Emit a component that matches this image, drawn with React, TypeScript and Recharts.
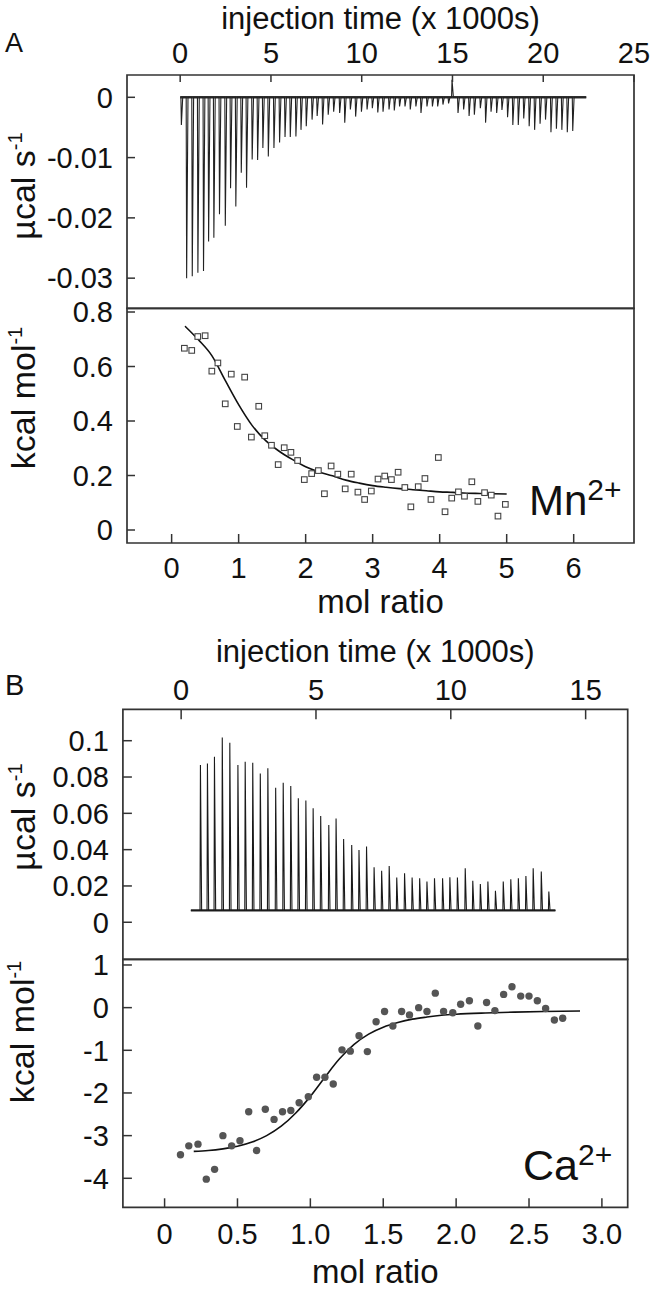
import { ComposedChart, Line, Scatter, XAxis, YAxis, ReferenceArea } from 'recharts'

// ---- panel A (Mn2+) raw thermogram: injection time (x 1000 s) / peak (µcal s-1)
const mnInjTimes = [
  0.04, 0.33, 0.64, 0.95, 1.26, 1.54, 1.83, 2.14, 2.46, 2.75, 3.04, 3.34, 3.63, 3.94, 4.24, 4.53,
  4.83, 5.14, 5.45, 5.75, 6.04, 6.35, 6.63, 6.92, 7.24, 7.52, 7.82, 8.13, 8.43, 8.76, 9.04, 9.35,
  9.64, 9.96, 10.27, 10.56, 10.86, 11.15, 11.48, 11.77, 12.06, 12.36, 12.65, 12.96, 13.24, 13.57,
  13.87, 14.16, 14.45, 14.76, 14.95, 15.28, 15.59, 15.89, 16.18, 16.51, 16.8, 17.1, 17.41, 17.7,
  18.01, 18.3, 18.6, 18.9, 19.2, 19.5, 19.8, 20.1, 20.4, 20.7, 21.0, 21.3, 21.6,
]
const mnInjPeaks = [
  -0.0046, -0.03, -0.0297, -0.0291, -0.0288, -0.0239, -0.0233, -0.0194, -0.0213, -0.0151, -0.0181,
  -0.0125, -0.015, -0.0103, -0.0104, -0.0084, -0.0098, -0.0084, -0.0075, -0.0066, -0.0066, -0.0065,
  -0.0054, -0.0048, -0.0037, -0.0031, -0.0045, -0.0029, -0.0024, -0.0026, -0.0042, -0.002, -0.0032,
  -0.0024, -0.002, -0.0018, -0.0025, -0.0024, -0.002, -0.0022, -0.0015, -0.0015, -0.002, -0.0015,
  -0.0026, -0.0015, -0.0015, -0.0015, -0.0012, -0.001, 0.0029, -0.0026, -0.002, -0.0031, -0.0029,
  -0.0018, -0.0042, -0.0024, -0.0026, -0.0021, -0.0033, -0.0046, -0.0046, -0.0035, -0.0048, -0.0054,
  -0.0044, -0.0037, -0.0058, -0.0052, -0.0054, -0.0058, -0.0056,
]
const mnTraceRange = [0.0, 22.37]
const mnBaseline = 0

// ---- panel A integrated heats: mol ratio / kcal mol-1
const mnRatio = [
  0.19, 0.3, 0.39, 0.5, 0.6, 0.69, 0.8, 0.89, 0.98, 1.09, 1.19, 1.3, 1.39, 1.49, 1.59, 1.68, 1.78,
  1.88, 1.98, 2.09, 2.19, 2.28, 2.38, 2.48, 2.59, 2.68, 2.78, 2.88, 2.98, 3.08, 3.18, 3.28, 3.38,
  3.48, 3.57, 3.68, 3.78, 3.87, 3.98, 4.08, 4.18, 4.28, 4.37, 4.48, 4.57, 4.67, 4.77, 4.87, 4.98,
]
const mnHeat = [
  0.667, 0.659, 0.71, 0.713, 0.583, 0.613, 0.463, 0.572, 0.38, 0.561, 0.341, 0.454, 0.346, 0.311,
  0.24, 0.302, 0.285, 0.255, 0.185, 0.207, 0.218, 0.133, 0.235, 0.205, 0.151, 0.205, 0.139, 0.112,
  0.143, 0.187, 0.198, 0.185, 0.212, 0.156, 0.085, 0.159, 0.189, 0.112, 0.266, 0.067, 0.117, 0.14,
  0.124, 0.177, 0.105, 0.137, 0.128, 0.051, 0.094,
]
const mnFitRatio = [
  0.2, 0.4, 0.6, 0.8, 1.0, 1.2, 1.4, 1.6, 1.8, 2.0, 2.2, 2.4, 2.6, 2.8, 3.0, 3.2, 3.4, 3.6, 3.8, 4.0,
  4.2, 4.4, 4.6, 4.8, 5.0,
]
const mnFitHeat = [
  0.748, 0.698, 0.64, 0.549, 0.46, 0.384, 0.329, 0.29, 0.259, 0.232, 0.213, 0.199, 0.183, 0.172,
  0.163, 0.157, 0.152, 0.148, 0.144, 0.14, 0.138, 0.135, 0.134, 0.133, 0.132,
]

// ---- panel B (Ca2+) raw thermogram
const caInjTimes = [
  0.7, 0.96, 1.22, 1.51, 1.79, 2.09, 2.36, 2.64, 2.92, 3.2, 3.49, 3.77, 4.05, 4.33, 4.61, 4.88,
  5.16, 5.46, 5.73, 6.01, 6.31, 6.58, 6.86, 7.14, 7.42, 7.7, 7.98, 8.27, 8.55, 8.83, 9.1, 9.38,
  9.68, 9.95, 10.23, 10.52, 10.8, 11.08, 11.36, 11.64, 11.93, 12.21, 12.49, 12.77, 13.04, 13.34,
  13.62,
]
const caInjPeaks = [
  0.0866, 0.0875, 0.0912, 0.1018, 0.0989, 0.0866, 0.0884, 0.0879, 0.082, 0.0848, 0.0741, 0.0769,
  0.075, 0.0683, 0.067, 0.0628, 0.0585, 0.0536, 0.0572, 0.0459, 0.0426, 0.0398, 0.0417, 0.0303,
  0.0284, 0.031, 0.0246, 0.027, 0.0246, 0.0242, 0.0224, 0.0242, 0.0242, 0.0248, 0.0246, 0.0297,
  0.0228, 0.0211, 0.0224, 0.0174, 0.0224, 0.0237, 0.0242, 0.0255, 0.0297, 0.0279, 0.0169,
]
const caTraceRange = [0.36, 13.88]
const caBaseline = 0.0065

// ---- panel B integrated heats
const caRatio = [
  0.109, 0.166, 0.229, 0.286, 0.343, 0.4, 0.46, 0.517, 0.577, 0.631, 0.691, 0.751, 0.809, 0.866,
  0.923, 0.986, 1.043, 1.1, 1.157, 1.217, 1.274, 1.334, 1.391, 1.451, 1.509, 1.566, 1.626, 1.68,
  1.743, 1.8, 1.857, 1.914, 1.977, 2.031, 2.091, 2.149, 2.209, 2.266, 2.326, 2.383, 2.443, 2.5,
  2.557, 2.614, 2.674, 2.731,
]
const caHeat = [
  -3.45, -3.24, -3.2, -4.02, -3.79, -3.0, -3.24, -3.12, -2.44, -3.35, -2.38, -2.62, -2.44, -2.41,
  -2.23, -2.09, -1.63, -1.63, -1.79, -0.99, -1.02, -0.66, -1.03, -0.33, -0.09, -0.43, -0.09, -0.17,
  0.0, -0.09, 0.34, -0.09, -0.12, 0.08, 0.16, -0.43, 0.12, -0.07, 0.31, 0.49, 0.27, 0.27, 0.16,
  -0.02, -0.29, -0.25,
]
const caFitRatio = [
  0.2, 0.3, 0.4, 0.5, 0.6, 0.7, 0.8, 0.9, 1.0, 1.1, 1.2, 1.3, 1.4, 1.5, 1.6, 1.7, 1.8, 1.9, 2.0,
  2.2, 2.4, 2.6, 2.85,
]
const caFitHeat = [
  -3.37, -3.35, -3.31, -3.25, -3.15, -3.0, -2.78, -2.47, -2.08, -1.63, -1.2, -0.86, -0.62, -0.46,
  -0.35, -0.27, -0.22, -0.18, -0.155, -0.125, -0.105, -0.09, -0.078,
]

// axis domains and tick labels
const mnTimeDomain = [-2.93, 25]
const mnRateDomain = [-0.035, 0.0037]
const mnRatioDomain = [-0.666, 6.9]
const mnHeatDomain = [-0.0477, 0.8136]
const caTimeDomain = [-2.16, 16.56]
const caRateDomain = [-0.0204, 0.1173]
const caRatioDomain = [-0.286, 3.177]
const caHeatDomain = [-4.68, 1.133]

const mnTimeTicks = [0, 5, 10, 15, 20, 25]
const mnRateTicks = [0, -0.01, -0.02, -0.03]
const mnRatioTicks = [0, 1, 2, 3, 4, 5, 6]
const mnHeatTicks = [0, 0.2, 0.4, 0.6, 0.8]
const caTimeTicks = [0, 5, 10, 15]
const caRateTicks = [0, 0.02, 0.04, 0.06, 0.08, 0.1]
const caRatioTicks = [0, 0.5, 1, 1.5, 2, 2.5, 3]
const caHeatTicks = [-4, -3, -2, -1, 0, 1]

const FONT = '"Liberation Sans", Arial, Helvetica, sans-serif'
const INK = '#111'
const FRAME = '#333'

const zip = (xs: number[], ys: number[]) => xs.map((x, i) => ({ x, y: ys[i] }))

// each injection drawn as baseline -> peak -> baseline
function spikeTrace(times: number[], peaks: number[], base: number, range: number[], w: number) {
  const pts = [{ x: range[0], y: base }]
  times.forEach((t, i) => {
    pts.push({ x: t, y: base }, { x: t + w * 0.25, y: peaks[i] }, { x: t + w, y: base })
  })
  pts.push({ x: range[1], y: base })
  return pts
}

const tickStyle = { fontSize: 29, fill: INK, fontFamily: FONT }
const tickLine = { stroke: FRAME, strokeWidth: 1.5 }

const xTitle = (text: string, y: number, size: number) => (props: any) => {
  const vb = props.viewBox
  return (
    <text x={vb.x + vb.width / 2} y={y} textAnchor="middle" fontSize={size} fill={INK} fontFamily={FONT}>
      {text}
    </text>
  )
}

const yTitle = (text: string, bx: number, cy: number) => () => (
  <text
    x={bx}
    y={cy}
    transform={`rotate(-90 ${bx} ${cy})`}
    textAnchor="middle"
    fontSize={34}
    fill={INK}
    fontFamily={FONT}
  >
    {text}
    <tspan dy={-13} fontSize={20}>
      -1
    </tspan>
  </text>
)

const OpenSquare = (p: any) => (
  <rect x={p.cx - 2.8} y={p.cy - 2.8} width={5.6} height={5.6} fill="#fff" stroke="#444" strokeWidth={1.1} />
)
const Dot = (p: any) => <circle cx={p.cx} cy={p.cy} r={3.7} fill="#555" />

// plot frame = rectangle spanning the full axis domains
const frame = (xd: number[], yd: number[]) => (
  <ReferenceArea
    x1={xd[0]}
    x2={xd[1]}
    y1={yd[0]}
    y2={yd[1]}
    fill="none"
    fillOpacity={0}
    stroke={FRAME}
    strokeWidth={1.7}
    ifOverflow="visible"
  />
)

function ThermoA() {
  return (
    <ComposedChart width={653} height={320} margin={{ top: 0, right: 19, bottom: 11.7, left: 0 }}>
      <XAxis
        dataKey="x"
        type="number"
        orientation="top"
        domain={mnTimeDomain}
        ticks={mnTimeTicks}
        allowDataOverflow
        interval={0}
        height={75}
        axisLine={false}
        tickSize={-7}
        tickMargin={19}
        tick={tickStyle}
        tickLine={tickLine}
        label={xTitle('injection time (x 1000s)', 29, 31)}
      />
      <YAxis
        dataKey="y"
        type="number"
        domain={mnRateDomain}
        ticks={mnRateTicks}
        allowDataOverflow
        interval={0}
        width={127}
        axisLine={false}
        tickSize={-8}
        tickMargin={22}
        tick={tickStyle}
        tickLine={tickLine}
        label={yTitle('µcal s', 35, 186)}
      />
      <Line
        data={[{ x: mnTraceRange[0], y: mnBaseline }, { x: mnTraceRange[1], y: mnBaseline }]}
        dataKey="y"
        stroke="#333"
        strokeWidth={2.6}
        dot={false}
        isAnimationActive={false}
      />
      <Line
        data={spikeTrace(mnInjTimes, mnInjPeaks, mnBaseline, mnTraceRange, 0.1)}
        dataKey="y"
        type="linear"
        stroke="#222"
        strokeWidth={1.1}
        dot={false}
        isAnimationActive={false}
      />
      {frame(mnTimeDomain, mnRateDomain)}
    </ComposedChart>
  )
}

function HeatA() {
  return (
    <ComposedChart width={653} height={340} margin={{ top: 28.3, right: 19, bottom: 0, left: 0 }}>
      <XAxis
        dataKey="x"
        type="number"
        domain={mnRatioDomain}
        ticks={mnRatioTicks}
        allowDataOverflow
        interval={0}
        height={77}
        axisLine={false}
        tickSize={-9}
        tickMargin={23}
        tick={tickStyle}
        tickLine={tickLine}
        label={xTitle('mol ratio', 333, 33)}
      />
      <YAxis
        dataKey="y"
        type="number"
        domain={mnHeatDomain}
        ticks={mnHeatTicks}
        allowDataOverflow
        interval={0}
        width={127}
        axisLine={false}
        tickSize={-8}
        tickMargin={22}
        tick={tickStyle}
        tickLine={tickLine}
        label={yTitle('kcal mol', 35, 118)}
      />
      <Line
        data={zip(mnFitRatio, mnFitHeat)}
        dataKey="y"
        type="monotone"
        stroke="#111"
        strokeWidth={1.6}
        dot={false}
        isAnimationActive={false}
      />
      <Scatter data={zip(mnRatio, mnHeat)} dataKey="y" shape={OpenSquare} isAnimationActive={false} />
      {frame(mnRatioDomain, mnHeatDomain)}
    </ComposedChart>
  )
}

function ThermoB() {
  return (
    <ComposedChart width={653} height={350} margin={{ top: 0, right: 25.3, bottom: 10.7, left: 0 }}>
      <XAxis
        dataKey="x"
        type="number"
        orientation="top"
        domain={caTimeDomain}
        ticks={caTimeTicks}
        allowDataOverflow
        interval={0}
        height={89.3}
        axisLine={false}
        tickSize={-10}
        tickMargin={19.3}
        tick={tickStyle}
        tickLine={tickLine}
        label={xTitle('injection time (x 1000s)', 41.7, 31)}
      />
      <YAxis
        dataKey="y"
        type="number"
        domain={caRateDomain}
        ticks={caRateTicks}
        allowDataOverflow
        interval={0}
        width={122.9}
        axisLine={false}
        tickSize={-9}
        tickMargin={23}
        tick={tickStyle}
        tickLine={tickLine}
        label={yTitle('µcal s', 35, 197)}
      />
      <Line
        data={[{ x: caTraceRange[0], y: caBaseline }, { x: caTraceRange[1], y: caBaseline }]}
        dataKey="y"
        stroke="#222"
        strokeWidth={2.2}
        dot={false}
        isAnimationActive={false}
      />
      <Line
        data={spikeTrace(caInjTimes, caInjPeaks, caBaseline, caTraceRange, 0.06)}
        dataKey="y"
        type="linear"
        stroke="#1a1a1a"
        strokeWidth={1.1}
        dot={false}
        isAnimationActive={false}
      />
      {frame(caTimeDomain, caRateDomain)}
    </ComposedChart>
  )
}

function HeatB() {
  return (
    <ComposedChart width={653} height={359} margin={{ top: 29.3, right: 25.3, bottom: 0, left: 0 }}>
      <XAxis
        dataKey="x"
        type="number"
        domain={caRatioDomain}
        ticks={caRatioTicks}
        allowDataOverflow
        interval={0}
        height={81.7}
        axisLine={false}
        tickSize={-9}
        tickMargin={24.7}
        tick={tickStyle}
        tickLine={tickLine}
        tickFormatter={(v: number) => (v === 0 ? '0' : v.toFixed(1))}
        label={xTitle('mol ratio', 353, 33)}
      />
      <YAxis
        dataKey="y"
        type="number"
        domain={caHeatDomain}
        ticks={caHeatTicks}
        allowDataOverflow
        interval={0}
        width={122.9}
        axisLine={false}
        tickSize={-9}
        tickMargin={23}
        tick={tickStyle}
        tickLine={tickLine}
        label={yTitle('kcal mol', 34, 102)}
      />
      <Line
        data={zip(caFitRatio, caFitHeat)}
        dataKey="y"
        type="monotone"
        stroke="#111"
        strokeWidth={1.6}
        dot={false}
        isAnimationActive={false}
      />
      <Scatter data={zip(caRatio, caHeat)} dataKey="y" shape={Dot} isAnimationActive={false} />
      {frame(caRatioDomain, caHeatDomain)}
    </ComposedChart>
  )
}

export default function App() {
  const abs = (top: number): React.CSSProperties => ({ position: 'absolute', left: 0, top })
  return (
    <div style={{ position: 'absolute', left: 0, top: 0, width: 653, height: 1289, background: '#fff', fontFamily: FONT }}>
      <div style={abs(0)}>
        <ThermoA />
      </div>
      <div style={abs(280)}>
        <HeatA />
      </div>
      <div style={abs(620)}>
        <ThermoB />
      </div>
      <div style={abs(930)}>
        <HeatB />
      </div>
      <svg width={653} height={1289} style={{ position: 'absolute', left: 0, top: 0, pointerEvents: 'none' }}>
        <g fontFamily={FONT} fill={INK}>
          <text x={5} y={52} fontSize={27}>A</text>
          <text x={5} y={695} fontSize={29}>B</text>
          <text x={529} y={515} fontSize={42}>
            Mn<tspan dy={-15} fontSize={30}>2+</tspan>
          </text>
          <text x={523} y={1180} fontSize={43}>
            Ca<tspan dy={-15} fontSize={30}>2+</tspan>
          </text>
        </g>
      </svg>
    </div>
  )
}
